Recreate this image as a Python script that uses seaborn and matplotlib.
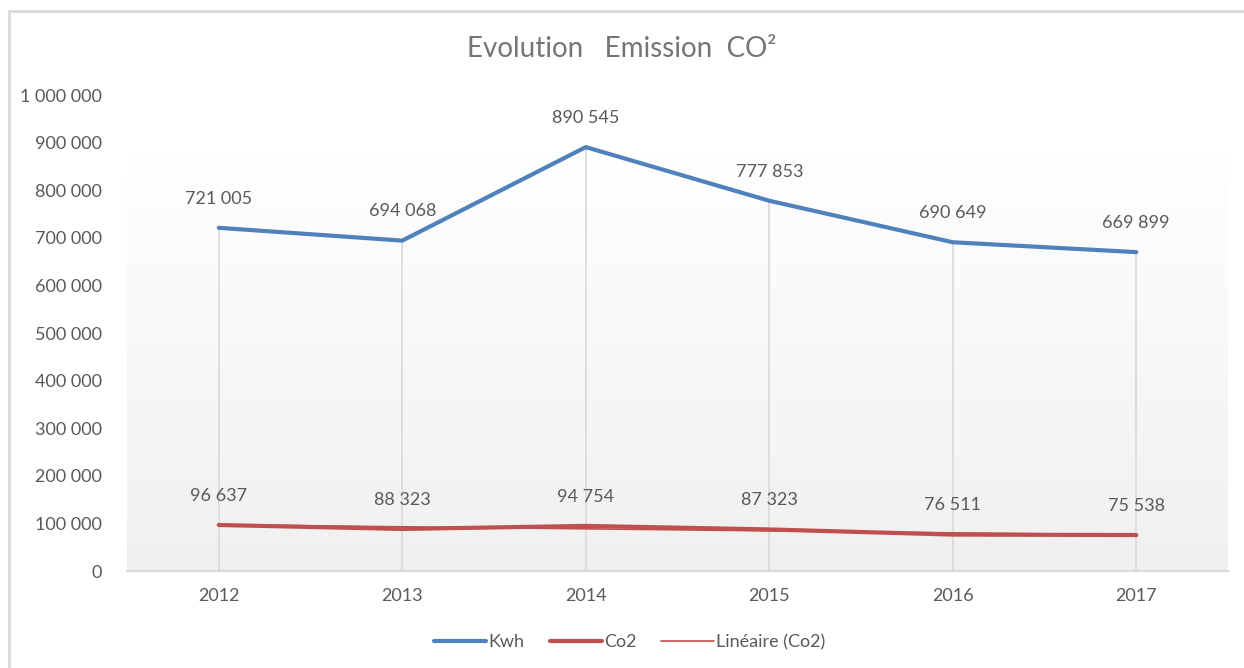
import numpy as np
import pandas as pd
import matplotlib
matplotlib.use("Agg")
import matplotlib.pyplot as plt
import seaborn as sns
from matplotlib.lines import Line2D
from matplotlib.patches import Rectangle

years = ["2012", "2013", "2014", "2015", "2016", "2017"]
kwh = [721005, 694068, 890545, 777853, 690649, 669899]
co2 = [96637, 88323, 94754, 87323, 76511, 75538]
y_ticks = [0, 100000, 200000, 300000, 400000, 500000, 600000, 700000, 800000, 900000, 1000000]

blue = "#4f81bd"
red = "#c0504d"
grey_txt = "#595959"

def fmt(v):
    return f"{int(v):,}".replace(",", " ")

sns.set_style("white")
plt.rcParams["font.family"] = ["Lato", "DejaVu Sans"]

df = pd.DataFrame({"year": years, "Kwh": kwh, "Co2": co2})
df["x"] = np.arange(len(years))

fig = plt.figure(figsize=(12.44, 6.68), dpi=100)
ax = fig.add_axes([127 / 1244, 97 / 668, 1101 / 1244, 476 / 668])

# gradient plot area (white at top -> light grey at bottom)
grad_top = 884000
grad = np.linspace(1, 0, 256).reshape(-1, 1)
cmap = matplotlib.colors.LinearSegmentedColormap.from_list("g", ["#f0f0f0", "#ffffff"])
ax.imshow(grad, extent=[-0.5, len(years) - 0.5, 0, grad_top], aspect="auto",
          cmap=cmap, origin="upper", zorder=0)

# drop lines
ax.vlines(df["x"], 0, df["Kwh"], color="#d9d9d9", lw=1.2, zorder=1)

sns.lineplot(data=df, x="x", y="Kwh", color=blue, lw=3, ax=ax, zorder=3,
             solid_capstyle="round", solid_joinstyle="round")
sns.lineplot(data=df, x="x", y="Co2", color=red, lw=3, ax=ax, zorder=3,
             solid_capstyle="round", solid_joinstyle="round")

# linear trend of Co2
slope, inter = np.polyfit(df["x"], df["Co2"], 1)
ax.plot(df["x"], slope * df["x"] + inter, color=red, lw=1.2, zorder=4)

for col in ["Kwh", "Co2"]:
    for xi, v in zip(df["x"], df[col]):
        ax.annotate(fmt(v), (xi, v), xytext=(0, 21), textcoords="offset points",
                    ha="center", va="center", fontsize=13, color=grey_txt)

ax.set_xlim(-0.5, len(years) - 0.5)
ax.set_ylim(0, 1000000)
ax.set_xticks(df["x"])
ax.set_xticklabels(years)
ax.set_yticks(y_ticks)
ax.set_yticklabels([fmt(t) for t in y_ticks])
ax.tick_params(axis="both", length=0, labelsize=13, colors=grey_txt)
ax.tick_params(axis="y", pad=18)
ax.tick_params(axis="x", pad=12)
ax.set_xlabel("")
ax.set_ylabel("")
for s in ["top", "right", "left"]:
    ax.spines[s].set_visible(False)
ax.spines["bottom"].set_color("#d9d9d9")
ax.spines["bottom"].set_linewidth(1.5)

fig.text(0.5, 1 - 49 / 668, "Evolution   Emission  CO²", ha="center", va="center",
         fontsize=20, color="#757575")

handles = [Line2D([], [], color=blue, lw=3),
           Line2D([], [], color=red, lw=3),
           Line2D([], [], color=red, lw=1.2)]
fig.legend(handles, ["Kwh", "Co2", "Linéaire (Co2)"], loc="center",
           bbox_to_anchor=(0.506, 1 - 642 / 668), ncol=3, frameon=False,
           fontsize=13, labelcolor=grey_txt, handlelength=2.9, handletextpad=0.1,
           columnspacing=1.4)

fig.patches.append(Rectangle((9 / 1244, -0.01), 1.02, 1 - 11 / 668 + 0.01,
                             transform=fig.transFigure, fill=False,
                             edgecolor="#d9d9d9", lw=2, zorder=0))

fig.savefig("out.png", dpi=100, facecolor="white")
